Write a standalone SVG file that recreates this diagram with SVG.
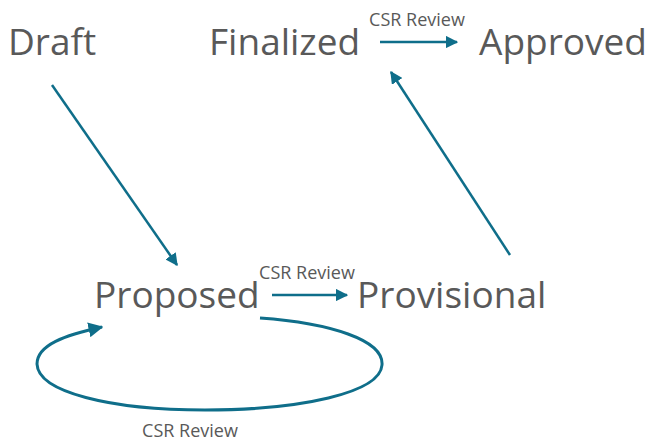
<svg xmlns="http://www.w3.org/2000/svg" width="651" height="441" viewBox="0 0 651 441">
<style>
.big{font-family:"Open Sans","Noto Sans",sans-serif;font-size:37px;fill:#595959}
.lbl{font-family:"Open Sans","Noto Sans",sans-serif;font-size:18px;fill:#595959}
.c{stroke:#0f6e8a;stroke-width:2.5;fill:none;marker-end:url(#ah)}
</style>
<defs>
<marker id="ah" viewBox="0 0 10 10" refX="9" refY="5" markerWidth="5" markerHeight="5" orient="auto" markerUnits="strokeWidth">
<path d="M0,0 L10,5 L0,10 Z" fill="#0f6e8a"/>
</marker>
</defs>
<rect width="651" height="441" fill="#ffffff"/>
<g id="connectors">
<line class="c" x1="52" y1="85" x2="177" y2="265"/>
<line class="c" x1="510" y1="255" x2="391" y2="72"/>
<line class="c" x1="380" y1="42" x2="457" y2="42"/>
<line class="c" x1="272" y1="295" x2="347" y2="295"/>
<path class="c" style="stroke-width:3" d="M260,318 C330,323 384,340 382,365 C380,393 300,410 205,410 C110,410 38,392 37,364 C37,345 65,335 102,327"/>
<text class="lbl" x="417" y="26" text-anchor="middle">CSR Review</text>
<text class="lbl" x="307" y="279" text-anchor="middle">CSR Review</text>
<text class="lbl" x="190" y="437" text-anchor="middle">CSR Review</text>
</g>
<g id="draft"><text class="big" x="8" y="55">Draft</text></g>
<g id="finalized"><text class="big" x="209" y="55">Finalized</text></g>
<g id="approved"><text class="big" x="479" y="55">Approved</text></g>
<g id="proposed"><text class="big" x="94" y="308">Proposed</text></g>
<g id="provisional"><text class="big" x="357" y="308">Provisional</text></g>
</svg>
